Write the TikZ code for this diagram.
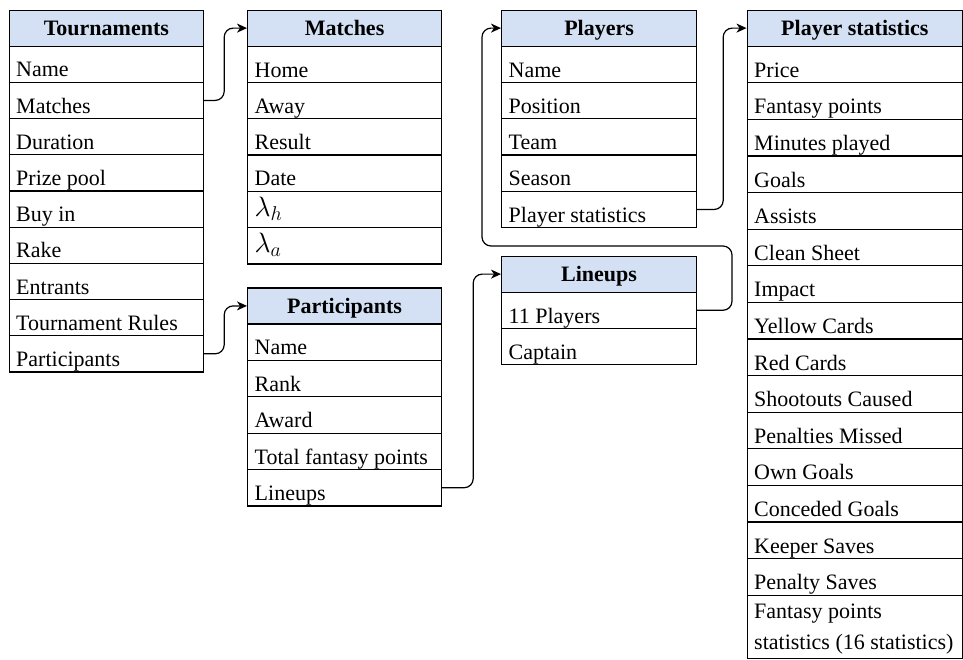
\RequirePackage{fix-cm}
\documentclass[tikz,border=0pt]{standalone}
\usepackage{fontspec}
\setmainfont{Liberation Serif}
\DeclareMathSizes{28}{28}{20}{15}
\usetikzlibrary{arrows.meta,calc}
\definecolor{hdrblue}{HTML}{D4E1F5}
\newcommand\cellfont{\fontsize{22}{31}\selectfont}
\newcommand\mathcell[1]{\raisebox{6pt}{\fontsize{28}{31}\selectfont$#1$}}
\tikzset{
 tbl/.style={draw=black, line width=1.2pt, inner sep=0pt, anchor=north west, rectangle},
 hdr/.style={tbl, fill=hdrblue, minimum height=36pt, font=\cellfont\bfseries, text height=15pt, text depth=0pt, align=center},
 cellbox/.style={tbl, fill=white},
 celltxt/.style={inner sep=0pt, anchor=base west, font=\cellfont, align=left},
 conn/.style={draw=black, line width=1.2pt, rounded corners=9pt, -{Stealth[length=10pt,width=9pt,inset=3pt]}},
}
\newcommand\dbtable[7]{%
 \node[hdr, minimum width=#3pt] (#1) at (#2,#4) {#6};
 \foreach \txt [count=\i] in {#7} {
   \pgfmathsetmacro\yy{#4+36+(\i-1)*#5}
   \node[cellbox, minimum width=#3pt, minimum height=#5pt] (#1-\i) at (#2,\yy) {};
   \node[celltxt] (#1-\i-t) at ([xshift=7.5pt,yshift=6pt]#1-\i.south west) {\txt};
 }
}
\begin{document}
\begin{tikzpicture}[x=1pt,y=-1pt]
\useasboundingbox (0,0) rectangle (963,659);
\dbtable{T}{8.5}{194.5}{9.5}{36.2}{Tournaments}{Name,Matches,Duration,Prize pool,Buy in,Rake,Entrants,Tournament Rules,Participants}
\dbtable{M}{247}{194}{9.5}{36.3}{Matches}{Home,Away,Result,Date,{\mathcell{\lambda_h}},{\mathcell{\lambda_a}}}
\dbtable{Pa}{247}{194}{287.3}{36.4}{Participants}{Name,Rank,Award,Total fantasy points,Lineups}
\dbtable{Pl}{501}{195}{9.5}{36.3}{Players}{Name,Position,Team,Season,Player statistics}
\dbtable{L}{501}{195}{255.5}{36.3}{Lineups}{11 Players,Captain}
\dbtable{PS}{746.5}{215.5}{9.5}{36.6}{Player statistics}{Price,Fantasy points,Minutes played,Goals,Assists,Clean Sheet,Impact,Yellow Cards,Red Cards,Shootouts Caused,Penalties Missed,Own Goals,Conceded Goals,Keeper Saves,Penalty Saves}
\node[cellbox, minimum width=215.5pt, minimum height=63.5pt] (PS-16) at (746.5,594.5) {};
\node[celltxt] (PS-16-t) at ([xshift=7.5pt,yshift=10pt]PS-16.south west) {Fantasy points\\statistics (16 statistics)};
\draw[conn] (T-2.east) -- ++(20,0) |- (M.west);
\draw[conn] (T-9.east) -- ++(20,0) |- (Pa.west);
\draw[conn] (Pa-5.east) -- ++(31,0) |- (L.west);
\draw[conn] (Pl-5.east) -- ++(26,0) |- (PS.west);
\coordinate (loopR) at (732,246);
\coordinate (loopL) at (482,246);
\draw[conn] (L-1.east) -| (loopR) -- (loopL) |- (Pl.west);
\end{tikzpicture}
\end{document}
